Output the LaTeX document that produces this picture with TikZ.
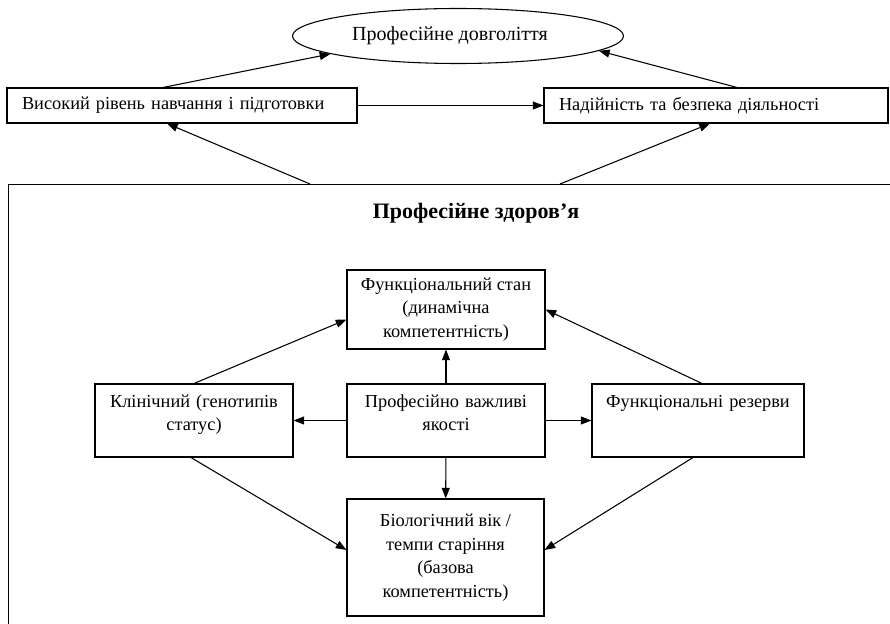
\documentclass[tikz,border=0pt]{standalone}
\usepackage{fontspec}
\setmainfont{Liberation Serif}
\usepackage{tikz}
\usetikzlibrary{shapes.geometric,arrows.meta,calc}

\begin{document}
\begin{tikzpicture}[x=0.75pt,y=-0.75pt,
  font=\fontsize{13.75pt}{17.6pt}\selectfont,
  box/.style={draw,rectangle,line width=0.8pt},
  topbox/.style={box,inner sep=0pt,align=center,text height=17.25pt,text depth=37.5pt},
  arr/.style={->,line width=0.8pt,>={Triangle[length=8pt,width=6pt]}}]
 \path[use as bounding box,clip] (0,0) rectangle (890,624);

 % top row
 \node (el) at (458,36) [ellipse,draw,line width=0.8pt,minimum width=248.25pt,minimum height=41.25pt,inner sep=0pt,font=\fontsize{15pt}{17pt}\selectfont] {Професійне довголіття\hspace*{12pt}};
 \node (b1) at (182,105.5) [box,align=left,text width=240pt,inner xsep=11.25pt,inner ysep=0pt,minimum height=26.25pt] {Високий рівень навчання і підготовки};
 \node (b2) at (716,105.5) [box,align=left,text width=235.5pt,inner xsep=11.25pt,inner ysep=0pt,minimum height=26.25pt] {Надійність та безпека діяльності};

 % professional health frame (runs off the page)
 \node (zd) at (8,184) [box,anchor=north west,minimum width=700pt,minimum height=400pt,inner sep=0pt] {};
 \node (zt) at (476,213) [font=\bfseries\fontsize{16.5pt}{18pt}\selectfont] {Професійне здоров’я};
 \coordinate (z1) at (310,184);
 \coordinate (z2) at (560,184);

 % inner boxes
 \node (fs) at (446,309.5) [box,align=center,minimum width=148.5pt,minimum height=59.25pt,inner sep=0pt] {Функціональний стан\\(динамічна\\компетентність)};
 \node (kl) at (194,420.5) [topbox,text width=148.5pt] {Клінічний (генотипів\\статус)};
 \node (pv) at (446,420.5) [topbox,text width=148.5pt] {Професійно важливі\\якості};
 \node (fr) at (698,420.5) [topbox,text width=159pt] {Функціональні резерви};
 \node (bv) at (445.5,557.5) [box,align=center,minimum width=147.75pt,minimum height=87.75pt,inner sep=0pt] {Біологічний вік /\\темпи старіння\\(базова\\компетентність)};

 \draw[arr] ($(b1.north)+(-19,0)$) -- (el.188);
 \draw[arr] ($(b2.north)+(21,0)$) -- (el.-6.5);
 \draw[arr] (b1.east) -- (b2.west);
 \draw[arr] (z1) -- ($(b1.south)+(-15,0)$);
 \draw[arr] (z2) -- ($(b2.south)+(-6,0)$);

 \draw[arr] (kl.north) -- ($(fs.west)+(0,10)$);
 \draw[arr] ($(fr.north)+(4,0)$) -- (fs.east);
 \draw[arr] (pv) -- (fs);
 \draw[arr] (pv) -- (kl);
 \draw[arr] (pv) -- (fr);
 \draw[arr] (pv) -- (bv);
 \draw[arr] ($(kl.south)+(-3,0)$) -- ($(bv.west)+(0,-7.5)$);
 \draw[arr] ($(fr.south)+(-5,0)$) -- ($(bv.east)+(0,-7.5)$);
\end{tikzpicture}
\end{document}
